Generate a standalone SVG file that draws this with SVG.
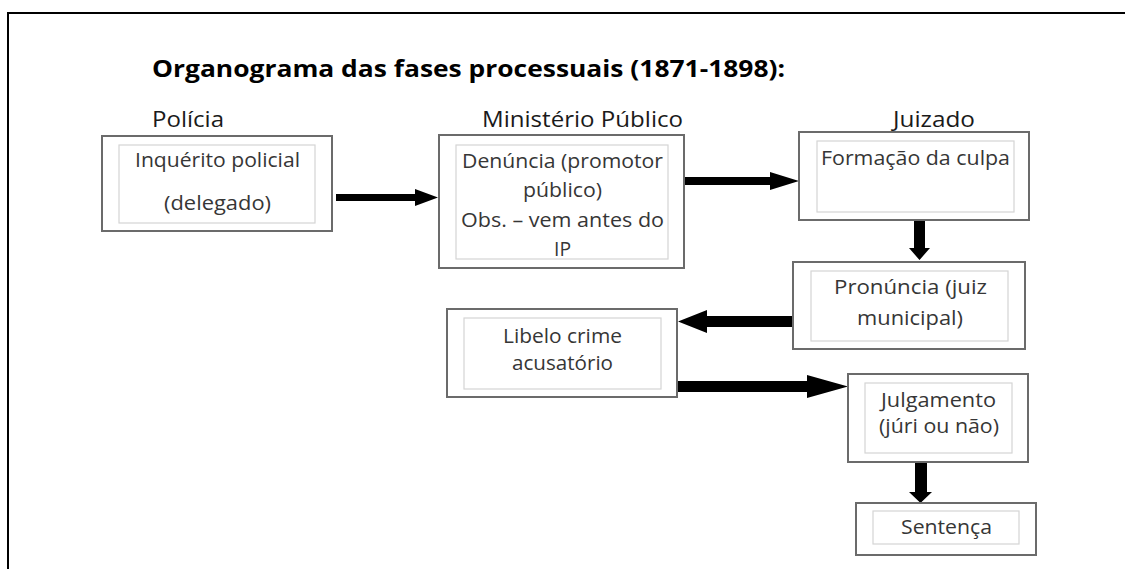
<svg xmlns="http://www.w3.org/2000/svg" width="1125" height="569" viewBox="0 0 1125 569">
<style>
.outer{fill:#fff;stroke:#6b6b6b;stroke-width:2}
.inner{fill:none;stroke:#d4d4d4;stroke-width:1.2}
.t{font-family:"Open Sans","Noto Sans",sans-serif;font-size:19.5px;fill:#363636;text-anchor:middle}
.h{font-family:"Open Sans","Noto Sans",sans-serif;font-size:21px;fill:#1a1a1a}
.title{font-family:"Open Sans","Noto Sans",sans-serif;font-size:23px;font-weight:bold;fill:#000}
.arr{fill:#000}
</style>
<rect width="1125" height="569" fill="#fff"/>
<g id="frame">
<line x1="7" y1="13" x2="1125" y2="13" stroke="#000" stroke-width="2"/>
<line x1="8" y1="13" x2="8" y2="569" stroke="#000" stroke-width="2"/>
</g>
<text class="title" x="152" y="77" textLength="633" lengthAdjust="spacingAndGlyphs">Organograma das fases processuais (1871-1898):</text>
<text class="h" x="152" y="127" textLength="72" lengthAdjust="spacingAndGlyphs">Polícia</text>
<text class="h" x="482" y="127" textLength="201" lengthAdjust="spacingAndGlyphs">Ministério Público</text>
<text class="h" x="893" y="127" textLength="82" lengthAdjust="spacingAndGlyphs">Juizado</text>

<g id="connectors">
<path class="arr" d="M336,194 H415 V189 L438,197.5 L415,206 V201 H336 Z"/>
<path class="arr" d="M685,177 H770 V172 L799,181 L770,190 V185 H685 Z"/>
<path class="arr" d="M914,220 H925 V248 H930 L919.5,260 L909,248 H914 Z"/>
<path class="arr" d="M793,316 H707 V310 L678,321.5 L707,333 V327 H793 Z"/>
<path class="arr" d="M677,381 H807 V375 L848,386.5 L807,398 V392 H677 Z"/>
<path class="arr" d="M915,462 H927 V492 H932 L920.5,503 L909,492 H915 Z"/>
</g>

<g id="node-inquerito">
<rect class="outer" x="102" y="136" width="230" height="95"/>
<rect class="inner" x="119" y="145" width="196" height="78"/>
<text class="t" x="217.5" y="167" textLength="165" lengthAdjust="spacingAndGlyphs">Inquérito policial</text>
<text class="t" x="217.5" y="210" textLength="107" lengthAdjust="spacingAndGlyphs">(delegado)</text>
</g>
<g id="node-denuncia">
<rect class="outer" x="439" y="135" width="245" height="133"/>
<rect class="inner" x="456" y="145" width="212" height="114"/>
<text class="t" x="562.5" y="168" textLength="201" lengthAdjust="spacingAndGlyphs">Denúncia (promotor</text>
<text class="t" x="562.5" y="197" textLength="79" lengthAdjust="spacingAndGlyphs">público)</text>
<text class="t" x="562.5" y="227" textLength="203" lengthAdjust="spacingAndGlyphs">Obs. – vem antes do</text>
<text class="t" x="562.5" y="256" textLength="17" lengthAdjust="spacingAndGlyphs">IP</text>
</g>
<g id="node-formacao">
<rect class="outer" x="799" y="132" width="230" height="88"/>
<rect class="inner" x="817" y="141" width="197" height="71"/>
<text class="t" x="915.5" y="165" textLength="189" lengthAdjust="spacingAndGlyphs">Formação da culpa</text>
</g>
<g id="node-pronuncia">
<rect class="outer" x="793" y="262" width="232" height="87"/>
<rect class="inner" x="811" y="271" width="197" height="70"/>
<text class="t" x="910.5" y="294" textLength="153" lengthAdjust="spacingAndGlyphs">Pronúncia (juiz</text>
<text class="t" x="910" y="325" textLength="106" lengthAdjust="spacingAndGlyphs">municipal)</text>
</g>
<g id="node-libelo">
<rect class="outer" x="447" y="309" width="230" height="88"/>
<rect class="inner" x="464" y="318" width="197" height="71"/>
<text class="t" x="562.5" y="343" textLength="119" lengthAdjust="spacingAndGlyphs">Libelo crime</text>
<text class="t" x="562.5" y="370" textLength="101" lengthAdjust="spacingAndGlyphs">acusatório</text>
</g>
<g id="node-julgamento">
<rect class="outer" x="848" y="374" width="180" height="88"/>
<rect class="inner" x="865" y="383" width="147" height="70"/>
<text class="t" x="938.5" y="407" textLength="115" lengthAdjust="spacingAndGlyphs">Julgamento</text>
<text class="t" x="939" y="433" textLength="120" lengthAdjust="spacingAndGlyphs">(júri ou não)</text>
</g>
<g id="node-sentenca">
<rect class="outer" x="856" y="503" width="180" height="52"/>
<rect class="inner" x="873" y="511" width="146" height="33"/>
<text class="t" x="946.5" y="534" textLength="91" lengthAdjust="spacingAndGlyphs">Sentença</text>
</g>
</svg>
